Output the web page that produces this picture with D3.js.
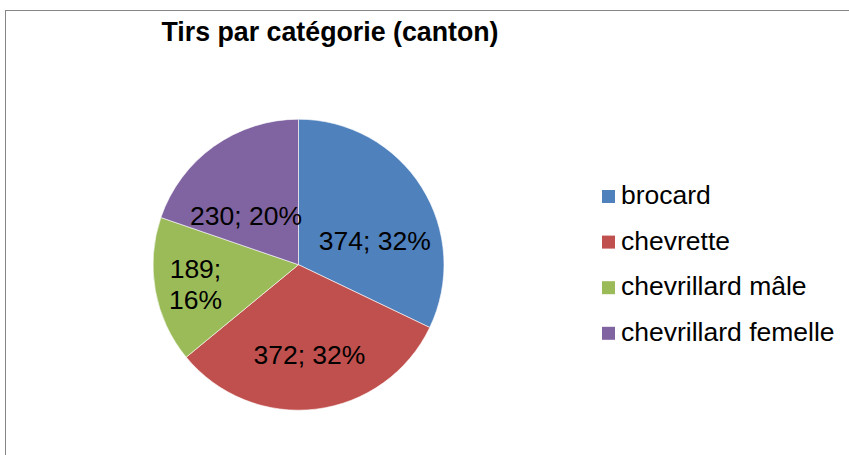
<!DOCTYPE html>
<html>
<head>
<meta charset="utf-8">
<script src="https://cdn.jsdelivr.net/npm/d3@7"></script>
<style>
  body { margin: 0; background: #fff; }
  svg { display: block; font-family: "Liberation Sans", Arial, sans-serif; }
</style>
</head>
<body>
<svg width="849" height="455"></svg>
<script>
const categories = ["brocard", "chevrette", "chevrillard mâle", "chevrillard femelle"];
const values = [374, 372, 189, 230];
const colors = ["#4F81BD", "#C0504D", "#9BBB59", "#8064A2"];
const title = "Tirs par catégorie (canton)";

const svg = d3.select("svg");

// chart frame (runs off the right and bottom edges)
svg.append("rect")
  .attr("x", 5.5).attr("y", 10.5)
  .attr("width", 900).attr("height", 500)
  .attr("fill", "#fff")
  .attr("stroke", "#868686")
  .attr("stroke-width", 1);

svg.append("text")
  .attr("x", 330).attr("y", 41)
  .attr("text-anchor", "middle")
  .attr("font-weight", "bold")
  .attr("font-size", 28)
  .attr("textLength", 337)
  .attr("lengthAdjust", "spacingAndGlyphs")
  .text(title);

const cx = 298.5, cy = 264.7, r = 145.5;
const total = d3.sum(values);
const color = d3.scaleOrdinal().domain(categories).range(colors);

const pie = d3.pie().sort(null).value(d => d.value);
const data = pie(categories.map((c, i) => ({ name: c, value: values[i] })));
const arc = d3.arc().innerRadius(0).outerRadius(r);
const labelArc = d3.arc().innerRadius(r * 0.62).outerRadius(r * 0.62);
const narrowArc = d3.arc().innerRadius(r * 0.72).outerRadius(r * 0.72);

const g = svg.append("g").attr("transform", `translate(${cx},${cy})`);

g.selectAll("path")
  .data(data)
  .enter().append("path")
  .attr("d", arc)
  .attr("fill", d => color(d.data.name))
  .attr("stroke", "#fff")
  .attr("stroke-width", 0.6);

const isNarrow = d => d.endAngle - d.startAngle < 1.1;

const label = g.selectAll("text")
  .data(data)
  .enter().append("text")
  .attr("font-size", 26.5)
  .attr("fill", "#000")
  .attr("text-anchor", "middle")
  .attr("transform", d => {
    let [x, y] = (isNarrow(d) ? narrowArc : labelArc).centroid(d);
    if (y < 0) y += 24; // labels in the upper half sit lower, like Excel's best fit
    return `translate(${x},${y})`;
  });

label.each(function(d) {
  const pct = Math.round(d.value / total * 100) + "%";
  const el = d3.select(this);
  // narrow slices get the label on two lines
  if (isNarrow(d)) {
    el.append("tspan").attr("x", 0).attr("dy", "-0.2em").text(d.value + ";");
    el.append("tspan").attr("x", 0).attr("dy", "1.17em").text(pct);
  } else {
    el.append("tspan").attr("x", 0).attr("dy", "0.35em").text(d.value + "; " + pct);
  }
});

const legend = svg.append("g");
const row = legend.selectAll("g")
  .data(categories)
  .enter().append("g")
  .attr("transform", (d, i) => `translate(602,${204 + i * 45.6})`);

row.append("rect")
  .attr("x", 0).attr("y", -14)
  .attr("width", 13).attr("height", 13)
  .attr("fill", d => color(d));

row.append("text")
  .attr("x", 19).attr("y", 0)
  .attr("font-size", 26.5)
  .text(d => d);
</script>
</body>
</html>
